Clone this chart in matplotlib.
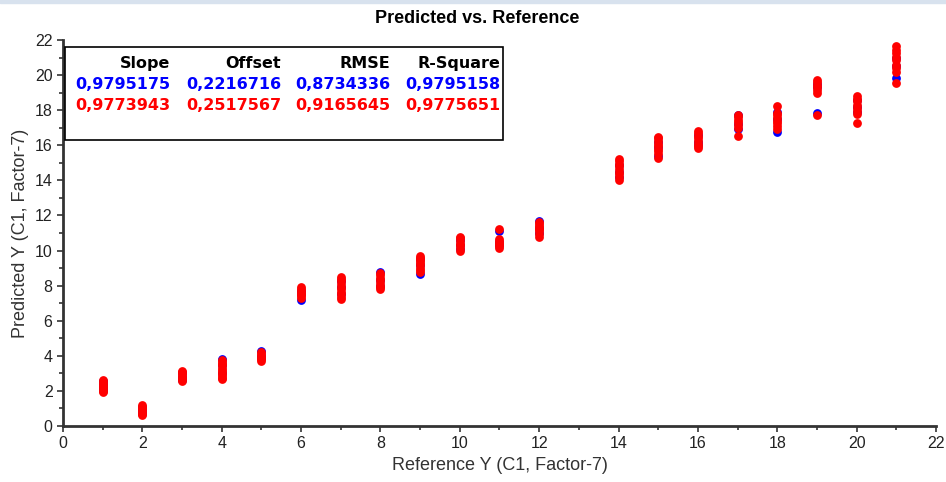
import numpy as np
import matplotlib.pyplot as plt
from matplotlib.patches import Rectangle

# reference levels and predicted values per level (calibration = blue, validation = red)
ref_levels = [1, 2, 3, 4, 5, 6, 7, 8, 9, 10, 11, 12, 14, 15, 16, 17, 18, 19, 20, 21]

pred_cal = [
    [2.55, 2.4, 2.3, 2.15, 2.05],
    [1.1, 0.9, 0.75],
    [3.0, 2.8, 2.6],
    [3.8, 3.5, 3.0],
    [4.3, 4.0, 3.85],
    [7.2, 7.5, 7.7],
    [8.26, 7.9, 7.5],
    [8.75, 8.3, 8.0],
    [8.66, 9.2, 9.5],
    [10.6, 10.3, 10.1],
    [11.1, 10.5, 10.3],
    [11.7, 11.3, 11.0],
    [14.9, 14.5, 14.2],
    [15.4, 15.9, 16.2],
    [16.6, 16.2, 16.0],
    [17.75, 17.2, 16.9],
    [16.75, 17.5, 17.9],
    [17.85, 19.3, 19.5],
    [18.6, 18.2, 17.9],
    [19.85, 20.5, 21.0],
]

pred_val = [
    [2.62, 2.5, 2.4, 2.3, 2.2, 2.1, 2.0, 1.94],
    [1.2, 1.1, 1.0, 0.9, 0.8, 0.7, 0.63],
    [3.13, 3.05, 2.95, 2.85, 2.75, 2.65, 2.56],
    [3.76, 3.65, 3.55, 3.45, 3.3, 3.2, 3.1, 2.95, 2.85, 2.75, 2.68],
    [4.2, 4.1, 4.0, 3.9, 3.8, 3.7],
    [7.9, 7.8, 7.7, 7.6, 7.5, 7.4, 7.3],
    [8.5, 8.4, 8.25, 8.1, 7.95, 7.8, 7.65, 7.5, 7.35, 7.25],
    [8.7, 8.6, 8.45, 8.3, 8.15, 8.0, 7.9, 7.8],
    [9.7, 9.6, 9.5, 9.4, 9.3, 9.15, 9.0, 8.9, 8.8],
    [10.8, 10.7, 10.55, 10.4, 10.3, 10.15, 10.0],
    [11.25, 10.65, 10.55, 10.45, 10.35, 10.25, 10.15],
    [11.6, 11.5, 11.4, 11.3, 11.2, 11.1, 10.95, 10.8],
    [15.2, 15.1, 14.95, 14.8, 14.65, 14.5, 14.35, 14.2, 14.0],
    [16.5, 16.4, 16.25, 16.1, 15.95, 15.8, 15.65, 15.5, 15.3],
    [16.8, 16.7, 16.55, 16.4, 16.25, 16.1, 15.95, 15.85],
    [17.7, 17.6, 17.45, 17.3, 17.15, 17.0, 16.55],
    [18.23, 17.85, 17.7, 17.55, 17.4, 17.25, 17.1, 16.9],
    [19.7, 19.6, 19.45, 19.3, 19.15, 19.0, 17.75],
    [18.8, 18.65, 18.5, 18.3, 18.1, 17.95, 17.8, 17.25],
    [21.65, 21.45, 21.25, 21.05, 20.85, 20.6, 20.4, 20.2, 19.55],
]

stat_names = ["Slope", "Offset", "RMSE", "R-Square"]
stats_cal = ["0,9795175", "0,2216716", "0,8734336", "0,9795158"]
stats_val = ["0,9773943", "0,2517567", "0,9165645", "0,9775651"]

plt.rcParams['font.family'] = ['Liberation Sans', 'DejaVu Sans']

fig = plt.figure(figsize=(9.46, 4.82), dpi=100)
ax = fig.add_axes([0.0666, 0.1162, 0.9228, 0.8008])

# thin window border at the very top
fig.patches.append(Rectangle((0, 0.994), 1, 0.006, transform=fig.transFigure,
                             color='#d8e2ee', zorder=0))

for lvl, ys in zip(ref_levels, pred_cal):
    ax.scatter([lvl] * len(ys), ys, s=40, color='#0000ff', linewidths=0, zorder=3)
for lvl, ys in zip(ref_levels, pred_val):
    ax.scatter([lvl] * len(ys), ys, s=40, color='#ff0000', linewidths=0, zorder=4)

ax.set_xlim(0, 22)
ax.set_ylim(0, 22)
ax.set_xticks(np.arange(0, 23, 2))
ax.set_yticks(np.arange(0, 23, 2))
ax.set_xticks(np.arange(0, 23, 1), minor=True)
ax.set_yticks(np.arange(0, 23, 1), minor=True)
ax.tick_params(which='both', direction='out', color='#333333', width=1.2,
               labelsize=11.5, labelcolor='#222222')
ax.tick_params(which='major', length=4)
ax.tick_params(which='minor', length=3)
for side in ['top', 'right']:
    ax.spines[side].set_visible(False)
for side in ['left', 'bottom']:
    ax.spines[side].set_linewidth(2)
    ax.spines[side].set_color('#333333')

ax.set_xlabel("Reference Y (C1, Factor-7)", fontsize=13, color='#333333', labelpad=4)
ax.set_ylabel("Predicted Y (C1, Factor-7)", fontsize=13, color='#333333', labelpad=4)
fig.text(0.504, 0.962, "Predicted vs. Reference", ha='center', va='center',
         fontsize=13, fontweight='bold')

# statistics box
box = Rectangle((0.002, 0.741), 0.502, 0.241, transform=ax.transAxes,
                facecolor='white', edgecolor='black', linewidth=1.2, zorder=5)
ax.add_patch(box)
col_right = [0.123, 0.250, 0.375, 0.501]
for xr, name, vc, vv in zip(col_right, stat_names, stats_cal, stats_val):
    ax.text(xr, 0.940, name, transform=ax.transAxes, ha='right', va='center',
            fontsize=11.5, fontweight='bold', color='black', zorder=6,
            family=['DejaVu Sans'])
    ax.text(xr, 0.884, vc, transform=ax.transAxes, ha='right', va='center',
            fontsize=11.5, fontweight='bold', color='#0000ff', zorder=6,
            family=['DejaVu Sans'])
    ax.text(xr, 0.830, vv, transform=ax.transAxes, ha='right', va='center',
            fontsize=11.5, fontweight='bold', color='#ff0000', zorder=6,
            family=['DejaVu Sans'])

fig.savefig("out.png", dpi=100)
